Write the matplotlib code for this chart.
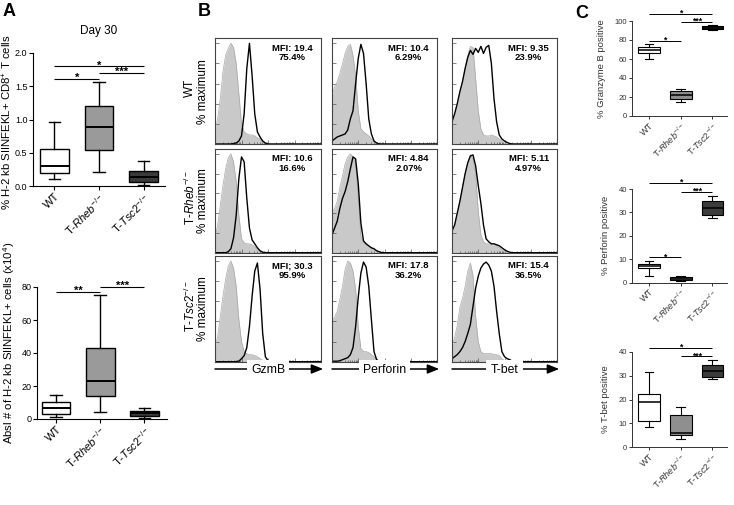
import numpy as np
import matplotlib
matplotlib.use('Agg')
import matplotlib.pyplot as plt

plt.rcParams['font.family'] = ['Liberation Sans', 'DejaVu Sans']
plt.rcParams['mathtext.fontset'] = 'custom'
plt.rcParams['mathtext.rm'] = 'Liberation Sans'
plt.rcParams['mathtext.it'] = 'Liberation Sans:italic'
plt.rcParams['mathtext.bf'] = 'Liberation Sans:bold'

# ---------------- data ----------------
groups = ['WT', 'T-$\\mathit{Rheb}^{-/-}$', 'T-$\\mathit{Tsc2}^{-/-}$']

# box stats: [whisker low, q1, median, q3, whisker high]
a_pct_wt = [0.11, 0.20, 0.30, 0.56, 0.96]
a_pct_rheb = [0.21, 0.54, 0.89, 1.20, 1.56]
a_pct_tsc2 = [0.01, 0.06, 0.14, 0.23, 0.38]

a_abs_wt = [1.4, 3.0, 6.7, 10.5, 14.5]
a_abs_rheb = [4.4, 13.9, 23.0, 42.8, 75.0]
a_abs_tsc2 = [0.5, 1.8, 3.4, 4.8, 6.5]

c_gzmb_wt = [60.3, 66.5, 70.0, 73.0, 75.6]
c_gzmb_rheb = [14.6, 17.4, 22.0, 26.5, 28.0]
c_gzmb_tsc2 = [90.6, 91.3, 93.0, 94.8, 95.5]

c_perf_wt = [3.0, 6.1, 7.0, 7.9, 9.3]
c_perf_rheb = [0.9, 1.2, 1.7, 2.6, 2.9]
c_perf_tsc2 = [27.5, 28.9, 31.8, 34.9, 37.0]

c_tbet_wt = [8.5, 11.0, 19.0, 22.5, 31.5]
c_tbet_rheb = [3.5, 5.0, 6.0, 13.5, 17.0]
c_tbet_tsc2 = [28.5, 29.5, 32.0, 34.5, 36.5]

# histogram channel positions (% of axis width) and % maximum values
hist_x = [0, 2.5, 5, 7.5, 10, 12.5, 15, 17.5, 20, 22.5, 25, 27.5, 30,
          32.5, 35, 37.5, 40, 42.5, 45, 47.5, 50, 52.5, 55, 57.5, 60]

gzmb_wt_ctrl = [13, 25, 45, 72, 88, 95, 100, 96, 80, 50, 20, 12, 10, 9, 9, 8, 6, 5, 2, 0.5, 0, 0, 0, 0, 0]
gzmb_wt_stain = [0, 0, 0, 0, 0, 0, 0, 0.5, 1, 3, 8, 30, 75, 100, 68, 30, 12, 7, 3, 1, 0, 0, 0, 0, 0]
perf_wt_ctrl = [48, 57, 62, 70, 80, 90, 97, 99, 88, 68, 33, 15, 12, 10, 8, 5, 2, 1, 0, 0, 0, 0, 0, 0, 0]
perf_wt_stain = [3, 5, 7, 8, 9, 10, 14, 25, 33, 60, 85, 99, 90, 60, 25, 10, 3, 1, 0, 0, 0, 0, 0, 0, 0]
tbet_wt_ctrl = [22, 30, 40, 52, 62, 75, 88, 97, 96, 65, 33, 15, 9, 8, 8, 9, 8, 7, 5, 3, 1, 0, 0, 0, 0]
tbet_wt_stain = [22, 30, 40, 52, 62, 75, 86, 93, 89, 95, 91, 97, 90, 96, 98, 80, 45, 22, 9, 5, 3, 1.5, 0.5, 0, 0]

gzmb_rheb_ctrl = [15, 28, 48, 68, 85, 96, 100, 92, 72, 38, 14, 10, 9, 9, 8, 6, 3, 1, 0, 0, 0, 0, 0, 0, 0]
gzmb_rheb_stain = [0, 0, 0, 0, 0, 1, 4, 15, 38, 75, 97, 92, 55, 25, 13, 9, 5, 2, 0.5, 0, 0, 0, 0, 0, 0]
perf_rheb_ctrl = [40, 45, 52, 66, 78, 90, 97, 100, 97, 90, 55, 17, 10, 8, 6, 5, 3, 1.5, 0.5, 0, 0, 0, 0, 0, 0]
perf_rheb_stain = [18, 25, 32, 45, 55, 62, 72, 85, 97, 95, 70, 30, 12, 9, 7, 5, 4, 2, 1, 0, 0, 0, 0, 0, 0]
tbet_rheb_ctrl = [22, 28, 40, 52, 66, 80, 91, 99, 95, 80, 42, 18, 11, 9, 9, 8, 8, 7, 5, 3, 1, 0, 0, 0, 0]
tbet_rheb_stain = [22, 28, 40, 52, 66, 80, 91, 98, 99, 88, 68, 50, 28, 14, 11, 9, 9, 8, 7, 5, 3, 1.5, 0.5, 0, 0]

gzmb_tsc2_ctrl = [13, 25, 45, 65, 82, 95, 100, 93, 75, 42, 20, 10, 8, 7, 7, 6, 5, 3, 1.5, 0.5, 0, 0, 0, 0, 0]
gzmb_tsc2_stain = [0, 0, 0, 0, 0, 0, 0, 0, 0, 0.5, 3, 6, 14, 35, 65, 90, 98, 72, 28, 5, 1, 0, 0, 0, 0]
perf_tsc2_ctrl = [42, 44, 50, 62, 75, 92, 100, 98, 90, 72, 35, 13, 10, 10, 9, 7, 5, 2, 0.5, 0, 0, 0, 0, 0, 0]
perf_tsc2_stain = [0.5, 0.5, 0.5, 1, 2, 3, 4, 7, 14, 35, 64, 88, 99, 94, 75, 42, 10, 2, 0.5, 0, 0, 0, 0, 0, 0]
tbet_tsc2_ctrl = [15, 24, 36, 54, 63, 75, 90, 98, 86, 45, 20, 10, 8, 8, 8, 8, 7, 7, 6, 3, 1, 0, 0, 0, 0]
tbet_tsc2_stain = [3, 5, 7, 10, 14, 20, 28, 37, 55, 73, 85, 93, 97, 99, 96, 90, 75, 50, 28, 10, 5, 3, 2, 0.5, 0]

mfi_labels = [['MFI: 19.4\n75.4%', 'MFI: 10.4\n6.29%', 'MFI: 9.35\n23.9%'],
              ['MFI: 10.6\n16.6%', 'MFI: 4.84\n2.07%', 'MFI: 5.11\n4.97%'],
              ['MFI; 30.3\n95.9%', 'MFI: 17.8\n36.2%', 'MFI: 15.4\n36.5%']]
markers = ['GzmB', 'Perforin', 'T-bet']
row_labels = ['WT', 'T-$\\mathit{Rheb}^{-/-}$', 'T-$\\mathit{Tsc2}^{-/-}$']

# ---------------- figure ----------------
W, H = 734, 505
fig = plt.figure(figsize=(W / 100, H / 100), dpi=100)


def px_axes(l, t, r, b):
    return fig.add_axes([l / W, 1 - b / H, (r - l) / W, (b - t) / H])


box_colors = ['white', '#9a9a9a', '#3a3a3a']


def box_panel(ax, stats_list, width, colors, lw=1.0):
    stats = []
    for s in stats_list:
        stats.append(dict(whislo=s[0], q1=s[1], med=s[2], q3=s[3], whishi=s[4]))
    bp = ax.bxp(stats, positions=[1, 2, 3], widths=width, showfliers=False,
                patch_artist=True,
                boxprops=dict(linewidth=lw, edgecolor='black'),
                medianprops=dict(color='black', linewidth=lw * 1.4),
                whiskerprops=dict(linewidth=lw, color='black'),
                capprops=dict(linewidth=lw, color='black'))
    for patch, c in zip(bp['boxes'], colors):
        patch.set_facecolor(c)
    for cap in bp['caps']:
        x0, x1 = cap.get_xdata()
        xm = (x0 + x1) / 2
        cap.set_xdata([xm - width * 0.2, xm + width * 0.2])
    ax.spines['top'].set_visible(False)
    ax.spines['right'].set_visible(False)


def sig(ax, x1, x2, y, label, fs, lw=0.8, off=-1.6):
    ax.plot([x1, x2], [y, y], color='black', lw=lw, clip_on=False,
            solid_capstyle='butt')
    ax.annotate(label, xy=((x1 + x2) / 2, y), xytext=(0, off),
                textcoords='offset points', ha='center', va='baseline',
                fontsize=fs, fontweight='bold', annotation_clip=False)


# ---- Panel A top
ax = px_axes(33, 53, 165, 186)
box_panel(ax, [a_pct_wt, a_pct_rheb, a_pct_tsc2], 0.65, box_colors)
ax.set_xlim(0.52, 3.48)
ax.set_ylim(0, 2.0)
ax.set_yticks([0, 0.5, 1.0, 1.5, 2.0])
ax.set_yticklabels(['0.0', '0.5', '1.0', '1.5', '2.0'])
ax.tick_params(axis='y', labelsize=6.5, length=3, width=0.8, pad=1)
ax.tick_params(axis='x', labelsize=8, length=3, width=0.8, pad=1)
ax.set_xticks([1, 2, 3])
ax.set_xticklabels(groups, rotation=45, ha='right', rotation_mode='anchor')
ax.set_title('Day 30', fontsize=8.5, pad=14)
for s in ax.spines.values():
    s.set_linewidth(0.8)
sig(ax, 1, 3, 1.80, '*', 8)
sig(ax, 1, 2, 1.61, '*', 8)
sig(ax, 2, 3, 1.70, '***', 8)
fig.text(7.5 / W, 1 - 122 / H, '% H-2 kb SIINFEKL+ CD8$^{+}$ T cells',
         rotation=90, ha='center', va='center', fontsize=8.2)

# ---- Panel A bottom
ax = px_axes(37, 287, 167, 419)
box_panel(ax, [a_abs_wt, a_abs_rheb, a_abs_tsc2], 0.65, box_colors)
ax.set_xlim(0.57, 3.51)
ax.set_ylim(0, 80)
ax.set_yticks([0, 20, 40, 60, 80])
ax.tick_params(axis='y', labelsize=6.5, length=3, width=0.8, pad=1)
ax.tick_params(axis='x', labelsize=8, length=3, width=0.8, pad=1)
ax.set_xticks([1, 2, 3])
ax.set_xticklabels(groups, rotation=45, ha='right', rotation_mode='anchor')
for s in ax.spines.values():
    s.set_linewidth(0.8)
sig(ax, 1, 2, 77, '**', 8)
sig(ax, 2, 3, 80, '***', 8)
fig.text(9 / W, 1 - 343 / H, 'Absl # of H-2 kb SIINFEKL+ cells (x10$^{4}$)',
         rotation=90, ha='center', va='center', fontsize=8.2)

# ---- Panel B histograms
cols = [(215, 321), (332, 437), (452, 557)]
rows = [(38.3, 144), (149, 252.7), (256, 361.7)]
hist_grid = [[(gzmb_wt_ctrl, gzmb_wt_stain), (perf_wt_ctrl, perf_wt_stain), (tbet_wt_ctrl, tbet_wt_stain)],
             [(gzmb_rheb_ctrl, gzmb_rheb_stain), (perf_rheb_ctrl, perf_rheb_stain), (tbet_rheb_ctrl, tbet_rheb_stain)],
             [(gzmb_tsc2_ctrl, gzmb_tsc2_stain), (perf_tsc2_ctrl, perf_tsc2_stain), (tbet_tsc2_ctrl, tbet_tsc2_stain)]]

xs = list(hist_x) + [100]
major_x = [0, 25, 50, 75, 100]
minor_x = [d + 25 * np.log10(k) for d in [0, 25, 50, 75] for k in range(2, 10)]
for i, (t, b) in enumerate(rows):
    for j, (l, r) in enumerate(cols):
        ax = px_axes(l, t, r, b)
        ctrl, stain = hist_grid[i][j]
        ax.fill_between(xs, list(ctrl) + [0], color='#c9c9c9', lw=0)
        ax.plot(xs, list(ctrl) + [0], color='#a8a8a8', lw=0.5)
        ax.plot(xs, list(stain) + [0], color='black', lw=1.0)
        ax.set_xlim(0, 100)
        ax.set_ylim(0, 105)
        ax.set_xticks(major_x)
        ax.set_xticks(minor_x, minor=True)
        ax.set_yticks([0, 20, 40, 60, 80, 100])
        ax.tick_params(which='both', direction='in', labelbottom=False,
                       labelleft=False, width=0.5, color='#555555')
        ax.tick_params(which='major', length=3)
        ax.tick_params(which='minor', length=1.5)
        for s in ax.spines.values():
            s.set_linewidth(0.8)
            s.set_color('#444444')
        ax.text(0.73, 0.95, mfi_labels[i][j], transform=ax.transAxes,
                ha='center', va='top', fontsize=6.8, fontweight='bold',
                linespacing=1.1)

for i, (t, b) in enumerate(rows):
    yc = 1 - (t + b) / 2 / H
    fig.text(190 / W, yc + 0.006, row_labels[i], rotation=90, ha='center',
             va='center', fontsize=8.5)
    fig.text(203 / W, yc, '% maximum', rotation=90, ha='center',
             va='center', fontsize=8.5)

for j, (l, r) in enumerate(cols):
    yl = 1 - 369 / H
    fig.add_artist(matplotlib.patches.FancyArrowPatch(
        (l / W, yl), (r / W + 0.003, yl), transform=fig.transFigure,
        arrowstyle='-|>,head_length=7,head_width=2.8', color='black',
        lw=1.1, mutation_scale=1, shrinkA=0, shrinkB=0))
    fig.text((l + r) / 2 / W, yl - 0.002, markers[j], ha='center', va='center',
             fontsize=8.8,
             bbox=dict(facecolor='white', edgecolor='none', pad=3))

# ---- Panel C
c_specs = [
    ((632, 21, 727, 116), [c_gzmb_wt, c_gzmb_rheb, c_gzmb_tsc2], (0, 100),
     [0, 20, 40, 60, 80, 100], '% Granzyme B positive',
     [(1, 3, 107, '*'), (2, 3, 99.3, '***'), (1, 2, 79.4, '*')]),
    ((632, 189, 727, 282.7), [c_perf_wt, c_perf_rheb, c_perf_tsc2], (0, 40),
     [0, 10, 20, 30, 40], '% Perforin positive',
     [(1, 3, 42.7, '*'), (2, 3, 38.9, '***'), (1, 2, 10.8, '*')]),
    ((632, 351.7, 727, 447.3), [c_tbet_wt, c_tbet_rheb, c_tbet_tsc2], (0, 40),
     [0, 10, 20, 30, 40], '% T-bet positive',
     [(1, 3, 41.7, '*'), (2, 3, 38.0, '***')]),
]
c_colors = ['white', '#8f8f8f', '#3c3c3c']
for pos, data, ylim, yt, ylabel, sigs in c_specs:
    ax = px_axes(*pos)
    box_panel(ax, data, 0.69, c_colors, lw=0.8)
    ax.set_xlim(0.46, 3.46)
    ax.set_ylim(*ylim)
    ax.set_yticks(yt)
    ax.set_xticks([1, 2, 3])
    ax.set_xticklabels(groups, rotation=45, ha='right', rotation_mode='anchor')
    ax.tick_params(axis='y', labelsize=5.5, length=2.5, width=0.7, pad=1,
                   colors='#333333')
    ax.tick_params(axis='x', labelsize=6.5, length=2.5, width=0.7, pad=1,
                   colors='#333333')
    ax.set_ylabel(ylabel, fontsize=6.8, labelpad=6, color='#333333')
    for s in ax.spines.values():
        s.set_linewidth(0.7)
        s.set_color('#333333')
    for x1, x2, y, lab in sigs:
        sig(ax, x1, x2, y, lab, 6.3, lw=0.7, off=-1.2)

# panel letters
fig.text(3 / W, 1 - 3 / H, 'A', fontsize=13, fontweight='bold', va='top', ha='left')
fig.text(198 / W, 1 - 3 / H, 'B', fontsize=13, fontweight='bold', va='top', ha='left')
fig.text(575 / W, 1 - 5 / H, 'C', fontsize=13, fontweight='bold', va='top', ha='left')

fig.savefig('out.png', dpi=100)
